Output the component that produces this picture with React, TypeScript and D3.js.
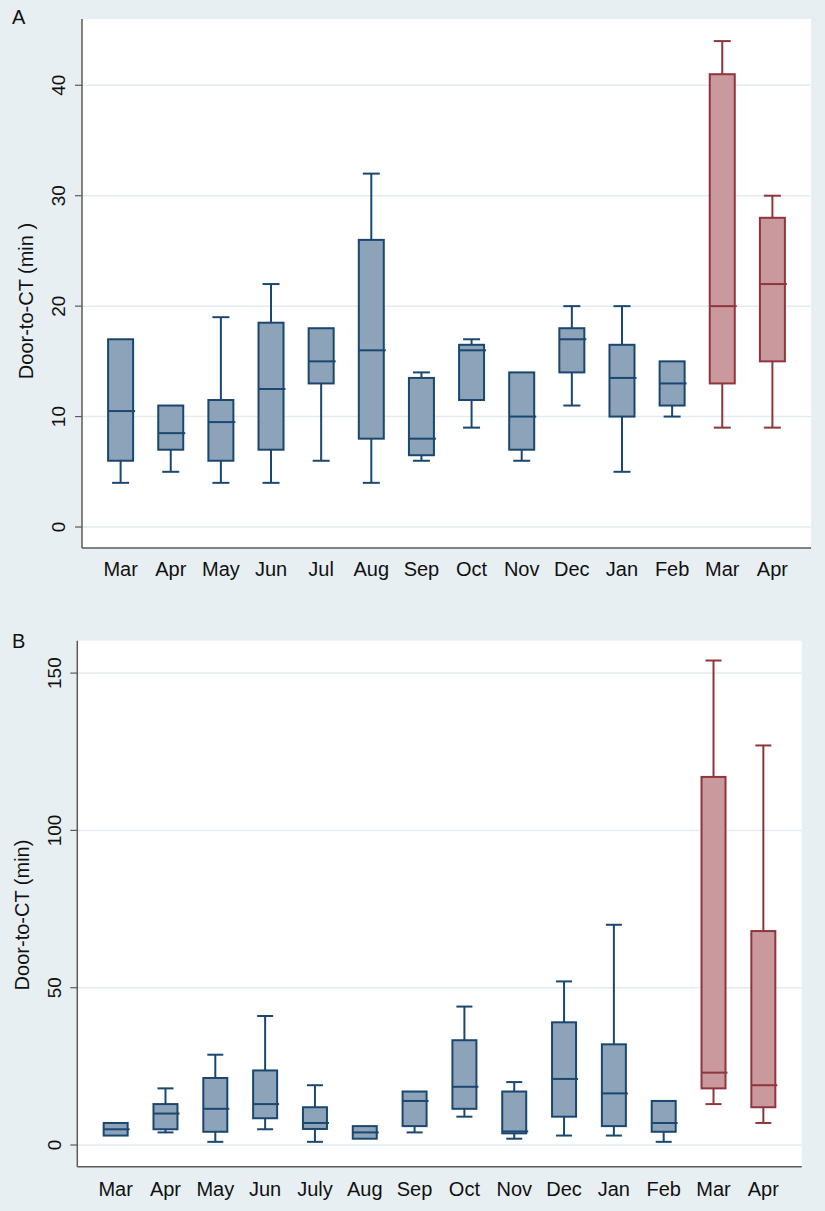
import React from "react";
import * as d3 from "d3";

const monthsA = ["Mar", "Apr", "May", "Jun", "Jul", "Aug", "Sep", "Oct", "Nov", "Dec", "Jan", "Feb", "Mar", "Apr"];
const lowA = [4, 5, 4, 4, 6, 4, 6, 9, 6, 11, 5, 10, 9, 9];
const q1A = [6, 7, 6, 7, 13, 8, 6.5, 11.5, 7, 14, 10, 11, 13, 15];
const medA = [10.5, 8.5, 9.5, 12.5, 15, 16, 8, 16, 10, 17, 13.5, 13, 20, 22];
const q3A = [17, 11, 11.5, 18.5, 18, 26, 13.5, 16.5, 14, 18, 16.5, 15, 41, 28];
const highA = [17, 11, 19, 22, 18, 32, 14, 17, 14, 20, 20, 15, 44, 30];
const ticksA = [0, 10, 20, 30, 40];

const monthsB = ["Mar", "Apr", "May", "Jun", "July", "Aug", "Sep", "Oct", "Nov", "Dec", "Jan", "Feb", "Mar", "Apr"];
const lowB = [3, 4, 1, 5, 1, 2, 4, 9, 2, 3, 3, 1, 13, 7];
const q1B = [3, 5, 4.2, 8.5, 5.1, 2, 6, 11.5, 3.7, 9, 6, 4.2, 18, 12];
const medB = [5, 10, 11.5, 13, 7, 4, 14, 18.5, 4.3, 21, 16.4, 7, 23, 19];
const q3B = [7, 13, 21.3, 23.7, 12, 6, 17, 33.3, 17, 39, 32, 14, 117, 68];
const highB = [7, 18, 28.7, 41, 19, 6, 17, 44, 20, 52, 70, 14, 154, 127];
const ticksB = [0, 50, 100, 150];

// period group: 0 = before, 1 = after (last two boxes)
const groupFlag = [0, 0, 0, 0, 0, 0, 0, 0, 0, 0, 0, 0, 1, 1];

const BG = "#E8EFF2";
const GRID = "#E3EBEE";
const AXIS = "#5a5a5a";
const FILLS = ["#8DA3B9", "#C9999E"];
const STROKES = ["#1A476F", "#90353B"];
const FONT = "'Liberation Sans', Arial, sans-serif";

type PanelProps = {
  letter: string;
  letterY: number;
  months: string[];
  low: number[];
  q1: number[];
  med: number[];
  q3: number[];
  high: number[];
  ticks: number[];
  yDomain: [number, number];
  left: number;
  right: number;
  top: number;
  bottom: number;
  boxW: number;
  capW: number;
  tickLabelX: number;
  titleX: number;
  titleY: number;
  title: string;
  xLabelY: number;
};

function Panel(p: PanelProps) {
  const idx = p.months.map((_, i) => String(i));
  const x = d3.scalePoint<string>().domain(idx).range([p.left, p.right]).padding(0.77);
  const y = d3.scaleLinear().domain(p.yDomain).range([p.bottom, p.top]);
  return (
    <g>
      <text x={12} y={p.letterY} fontSize={20} fontFamily={FONT} fill="#111">{p.letter}</text>
      <rect x={p.left} y={p.top} width={p.right - p.left} height={p.bottom - p.top} fill="#fff" />
      {p.ticks.map((t) => (
        <g key={"g" + t}>
          <line x1={p.left} x2={p.right} y1={y(t)} y2={y(t)} stroke={GRID} strokeWidth={1.5} />
          <line x1={p.left - 7} x2={p.left} y1={y(t)} y2={y(t)} stroke={AXIS} strokeWidth={1.2} />
          <text
            x={p.tickLabelX}
            y={y(t)}
            transform={`rotate(-90, ${p.tickLabelX}, ${y(t)})`}
            textAnchor="middle"
            fontSize={19}
            fontFamily={FONT}
            fill="#111"
          >
            {t}
          </text>
        </g>
      ))}
      <line x1={p.left} x2={p.left} y1={p.top} y2={p.bottom} stroke={AXIS} strokeWidth={1.5} />
      <line x1={p.left} x2={p.right} y1={p.bottom} y2={p.bottom} stroke={AXIS} strokeWidth={1.5} />
      <text
        x={p.titleX}
        y={p.titleY}
        transform={`rotate(-90, ${p.titleX}, ${p.titleY})`}
        textAnchor="middle"
        fontSize={20}
        fontFamily={FONT}
        fill="#111"
      >
        {p.title}
      </text>
      {idx.map((k, i) => {
        const cx = x(k) as number;
        const g = groupFlag[i];
        const st = STROKES[g];
        const half = p.boxW / 2;
        return (
          <g key={"b" + i}>
            {p.high[i] > p.q3[i] && (
              <>
                <line x1={cx} x2={cx} y1={y(p.high[i])} y2={y(p.q3[i])} stroke={st} strokeWidth={2} />
                <line x1={cx - p.capW / 2} x2={cx + p.capW / 2} y1={y(p.high[i])} y2={y(p.high[i])} stroke={st} strokeWidth={2} />
              </>
            )}
            {p.low[i] < p.q1[i] && (
              <>
                <line x1={cx} x2={cx} y1={y(p.q1[i])} y2={y(p.low[i])} stroke={st} strokeWidth={2} />
                <line x1={cx - p.capW / 2} x2={cx + p.capW / 2} y1={y(p.low[i])} y2={y(p.low[i])} stroke={st} strokeWidth={2} />
              </>
            )}
            <rect
              x={cx - half}
              y={y(p.q3[i])}
              width={p.boxW}
              height={Math.max(0.5, y(p.q1[i]) - y(p.q3[i]))}
              fill={FILLS[g]}
              stroke={st}
              strokeWidth={2}
            />
            <line x1={cx - half} x2={cx + half + 2} y1={y(p.med[i])} y2={y(p.med[i])} stroke={st} strokeWidth={2} />
            <text x={cx} y={p.xLabelY} textAnchor="middle" fontSize={20} fontFamily={FONT} fill="#111">
              {p.months[i]}
            </text>
          </g>
        );
      })}
    </g>
  );
}

export default function App() {
  return (
    <svg width={825} height={1211} style={{ position: "absolute", left: 0, top: 0, display: "block" }}>
      <rect x={0} y={0} width={825} height={1211} fill={BG} />
      <Panel
        letter="A"
        letterY={24}
        months={monthsA}
        low={lowA}
        q1={q1A}
        med={medA}
        q3={q3A}
        high={highA}
        ticks={ticksA}
        yDomain={[-1.9, 46]}
        left={82}
        right={811}
        top={19}
        bottom={548}
        boxW={25}
        capW={17}
        tickLabelX={65}
        titleX={33}
        titleY={301}
        title="Door-to-CT (min )"
        xLabelY={576}
      />
      <Panel
        letter="B"
        letterY={648}
        months={monthsB}
        low={lowB}
        q1={q1B}
        med={medB}
        q3={q3B}
        high={highB}
        ticks={ticksB}
        yDomain={[-6.9, 160.3]}
        left={77.3}
        right={801.7}
        top={640.7}
        bottom={1166.7}
        boxW={24}
        capW={16}
        tickLabelX={61.5}
        titleX={29}
        titleY={915}
        title="Door-to-CT (min)"
        xLabelY={1195.5}
      />
    </svg>
  );
}
